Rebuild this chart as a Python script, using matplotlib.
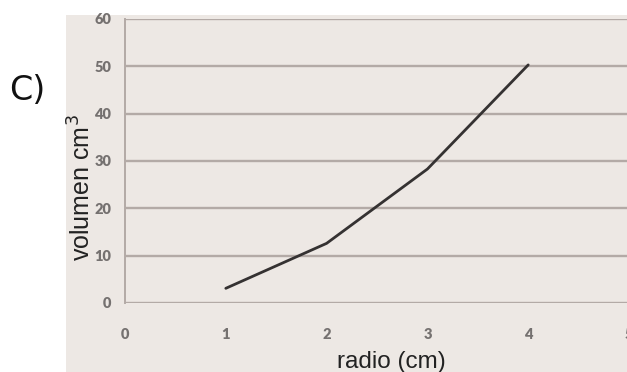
import matplotlib
matplotlib.use("Agg")
import matplotlib.pyplot as plt
from matplotlib.patches import Rectangle

radio = [1, 2, 3, 4]
volumen = [3.1, 12.6, 28.3, 50.3]
x_ticks = [0, 1, 2, 3, 4, 5]
y_ticks = [0, 10, 20, 30, 40, 50, 60]

W, H = 627, 372
fig = plt.figure(figsize=(W / 100, H / 100), dpi=100)
fig.patch.set_facecolor("white")

panel_color = "#EDE8E4"
grid_color = "#B3AAA6"
fig.patches.append(Rectangle((66 / W, 0), 1 - 66 / W, 1 - 15 / H,
                             transform=fig.transFigure, facecolor=panel_color,
                             edgecolor="none", zorder=-5))

left = 125 / W
right = 629 / W
bottom = 1 - 303 / H
top = 1 - 19 / H
ax = fig.add_axes([left, bottom, right - left, top - bottom])
ax.set_zorder(2)
ax.patch.set_alpha(0)

ax.plot(radio, volumen, color="#353232", lw=2.0, solid_capstyle="round", zorder=3)

ax.set_xlim(0, 5)
ax.set_ylim(0, 60)
ax.set_xticks(x_ticks)
ax.set_yticks(y_ticks)
for v in y_ticks:
    ax.axhline(v, color=grid_color, lw=1.7, zorder=1)
for s in ["top", "right", "bottom"]:
    ax.spines[s].set_visible(False)
ax.spines["left"].set_color(grid_color)
ax.spines["left"].set_linewidth(1.4)
ax.tick_params(length=0)
ax.tick_params(axis="y", pad=10)
ax.tick_params(axis="x", pad=18)
for lab in ax.get_xticklabels() + ax.get_yticklabels():
    lab.set_fontfamily("Lato")
    lab.set_fontweight("heavy")
    lab.set_fontsize(10.5)
    lab.set_color("#757170")

fig.text(82 / W, 1 - 188 / H, "volumen cm$^3$", rotation=90, ha="center", va="center",
         fontsize=18, family="Liberation Sans", color="#222222", zorder=3)
fig.text(391 / W, 1 - 362 / H, "radio (cm)", ha="center", va="center",
         fontsize=17.5, family="Liberation Sans", color="#222222", zorder=3)
fig.text(27 / W, 1 - 90 / H, "C)", ha="center", va="center",
         fontsize=24, family="DejaVu Sans", color="#111111", zorder=3)

fig.savefig("out.png", dpi=100)
